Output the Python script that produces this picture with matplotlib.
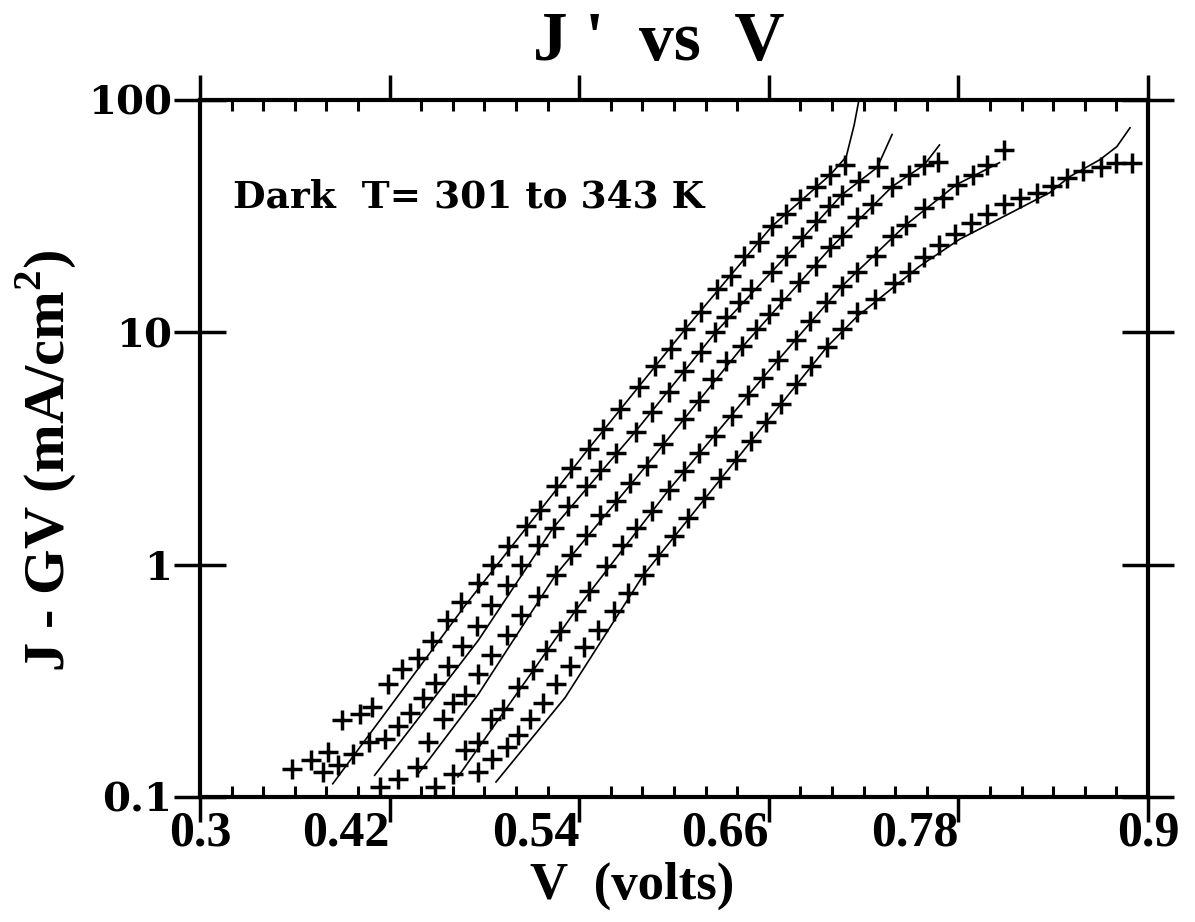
import matplotlib
matplotlib.use("Agg")
import matplotlib.pyplot as plt
from matplotlib.ticker import FixedLocator, MultipleLocator, NullLocator

plt.rcParams['font.family'] = ['Liberation Serif', 'DejaVu Serif']
plt.rcParams['mathtext.fontset'] = 'custom'
plt.rcParams['mathtext.rm'] = 'Liberation Serif:bold'
plt.rcParams['mathtext.bf'] = 'Liberation Serif:bold'

# measured points, J - GV (mA/cm^2) vs V (volts), five temperatures
s1_v = [0.358, 0.370, 0.381, 0.390, 0.401, 0.409, 0.419, 0.428, 0.438, 0.447, 0.456, 0.465,
        0.476, 0.485, 0.495, 0.506, 0.515, 0.525, 0.535, 0.546, 0.555, 0.566, 0.578, 0.588,
        0.598, 0.607, 0.617, 0.627, 0.636, 0.644, 0.654, 0.662, 0.671, 0.680, 0.690, 0.699, 0.708]
s1_j = [0.132, 0.144, 0.156, 0.214, 0.227, 0.243, 0.305, 0.354, 0.398, 0.471, 0.579, 0.692,
        0.834, 0.997, 1.20, 1.46, 1.71, 2.17, 2.60, 3.16, 3.85, 4.69, 5.83, 7.18,
        8.49, 10.3, 12.2, 15.3, 17.4, 21.2, 24.4, 28.6, 32.2, 37.3, 42.4, 47.7, 52.6]

s2_v = [0.378, 0.387, 0.397, 0.407, 0.417, 0.425, 0.433, 0.441, 0.449, 0.457, 0.466, 0.475,
        0.484, 0.494, 0.503, 0.514, 0.524, 0.533, 0.544, 0.553, 0.563, 0.576, 0.586, 0.597,
        0.606, 0.617, 0.626, 0.633, 0.641, 0.649, 0.662, 0.671, 0.681, 0.690, 0.698, 0.706,
        0.717, 0.729]
s2_j = [0.128, 0.137, 0.153, 0.172, 0.177, 0.203, 0.229, 0.268, 0.308, 0.368, 0.448, 0.546,
        0.672, 0.818, 0.996, 1.21, 1.44, 1.78, 2.17, 2.55, 3.01, 3.74, 4.55, 5.55,
        6.83, 8.24, 10.0, 11.6, 13.5, 15.3, 18.1, 21.2, 25.6, 30.0, 34.8, 39.1,
        44.6, 51.2]

s3_v = [0.414, 0.425, 0.437, 0.444, 0.454, 0.460, 0.468, 0.476, 0.484, 0.494, 0.503, 0.514,
        0.525, 0.535, 0.544, 0.553, 0.563, 0.572, 0.583, 0.593, 0.606, 0.616, 0.624, 0.633,
        0.643, 0.652, 0.660, 0.668, 0.679, 0.690, 0.699, 0.706, 0.716, 0.725, 0.738, 0.749,
        0.758, 0.767]
s3_j = [0.110, 0.119, 0.134, 0.172, 0.216, 0.255, 0.276, 0.337, 0.410, 0.499, 0.608, 0.733,
        0.902, 1.10, 1.34, 1.63, 1.87, 2.24, 2.67, 3.32, 4.25, 5.08, 6.31, 7.54,
        8.74, 10.3, 12.0, 13.9, 16.4, 19.2, 23.2, 25.9, 31.5, 35.5, 42.4, 47.7,
        52.6, 54.2]

s4_v = [0.449, 0.460, 0.468, 0.476, 0.484, 0.492, 0.501, 0.511, 0.519, 0.528, 0.538, 0.546,
        0.557, 0.567, 0.576, 0.586, 0.597, 0.606, 0.616, 0.626, 0.637, 0.647, 0.656, 0.666,
        0.677, 0.686, 0.696, 0.706, 0.716, 0.728, 0.738, 0.747, 0.758, 0.770, 0.779, 0.789,
        0.798, 0.809]
s4_j = [0.110, 0.125, 0.160, 0.172, 0.216, 0.238, 0.296, 0.353, 0.431, 0.519, 0.632, 0.771,
        0.986, 1.21, 1.44, 1.70, 2.09, 2.52, 3.01, 3.58, 4.38, 5.35, 6.37, 7.60,
        9.27, 11.2, 13.5, 15.8, 18.1, 21.2, 25.9, 29.1, 34.4, 38.0, 43.2, 47.7,
        52.6, 61.1]

s5_v = [0.476, 0.485, 0.494, 0.501, 0.509, 0.517, 0.525, 0.534, 0.543, 0.552, 0.562, 0.571,
        0.581, 0.590, 0.600, 0.609, 0.619, 0.629, 0.639, 0.649, 0.658, 0.668, 0.677, 0.687,
        0.697, 0.706, 0.716, 0.727, 0.739, 0.749, 0.758, 0.768, 0.778, 0.788, 0.798, 0.809,
        0.819, 0.830, 0.839, 0.849, 0.859, 0.870, 0.880, 0.890]
s5_j = [0.128, 0.146, 0.164, 0.184, 0.216, 0.255, 0.305, 0.367, 0.440, 0.525, 0.632, 0.755,
        0.902, 1.10, 1.33, 1.58, 1.93, 2.35, 2.81, 3.42, 4.13, 4.93, 6.00, 7.18,
        8.65, 10.3, 12.2, 13.9, 16.3, 18.1, 21.0, 23.7, 26.4, 29.4, 32.2, 35.5,
        38.0, 39.6, 42.8, 46.3, 49.6, 51.6, 53.7, 53.7]

# fitted curves
f1_v = [0.384, 0.468, 0.546, 0.607, 0.662, 0.699, 0.709, 0.714, 0.7175]
f1_j = [0.114, 0.67, 3.16, 10.3, 28.6, 47.7, 57.0, 78.0, 104.0]
f2_v = [0.4105, 0.476, 0.5235, 0.5756, 0.6263, 0.6708, 0.7063, 0.7286, 0.738]
f2_j = [0.124, 0.471, 1.44, 3.74, 10.0, 21.2, 39.1, 51.2, 71.0]
f3_v = [0.4378, 0.476, 0.525, 0.5825, 0.6438, 0.6994, 0.7381, 0.7584, 0.768]
f3_j = [0.125, 0.276, 0.902, 2.67, 8.74, 23.2, 42.4, 52.6, 64.0]
f4_v = [0.4632, 0.5375, 0.5965, 0.6562, 0.7063, 0.747, 0.7787, 0.806]
f4_j = [0.122, 0.632, 2.09, 6.37, 15.8, 29.1, 43.2, 53.7]
f5_v = [0.4873, 0.5311, 0.5806, 0.639, 0.6968, 0.7159, 0.7552, 0.7806, 0.8378, 0.8505,
        0.8695, 0.8803, 0.8886]
f5_j = [0.116, 0.268, 0.902, 2.81, 8.65, 11.7, 19.2, 25.1, 39.9, 46.8, 55.3, 63.0, 75.9]

xticks = [0.3, 0.42, 0.54, 0.66, 0.78, 0.9]
xlabels = ['0.3', '0.42', '0.54', '0.66', '0.78', '0.9']
yticks = [0.1, 1, 10, 100]
ylabels = ['0.1', '1', '10', '100']

series = [(s1_v, s1_j), (s2_v, s2_j), (s3_v, s3_j), (s4_v, s4_j), (s5_v, s5_j)]
fits = [(f1_v, f1_j), (f2_v, f2_j), (f3_v, f3_j), (f4_v, f4_j), (f5_v, f5_j)]

fig = plt.figure(figsize=(11.95, 9.22), dpi=100)
ax = fig.add_axes([0.1674, 0.1356, 0.7933, 0.7560])

for v, j in fits:
    ax.plot(v, j, color='k', lw=1.2, zorder=2)
for v, j in series:
    ax.plot(v, j, ls='none', marker='+', ms=14, mew=2.5, color='k', zorder=3)

ax.set_yscale('log')
ax.set_xlim(0.3, 0.9)
ax.set_ylim(0.1, 100)

ax.xaxis.set_major_locator(FixedLocator(xticks))
ax.xaxis.set_minor_locator(MultipleLocator(0.02))
ax.yaxis.set_major_locator(FixedLocator(yticks))
ax.yaxis.set_minor_locator(NullLocator())
ax.set_xticklabels(xlabels, fontsize=36, fontweight='bold')
ax.set_yticklabels(ylabels, fontsize=29, fontweight='bold', family='DejaVu Serif')
for i, lab in enumerate(ax.get_xticklabels()):
    if 0 < i < len(xlabels) - 1:
        lab.set_horizontalalignment('right')

ax.tick_params(axis='x', which='major', direction='out', length=18, width=2.5,
               top=True, bottom=True, pad=-8)
ax.tick_params(axis='x', which='minor', direction='in', length=8, width=2.2,
               top=True, bottom=True)
ax.tick_params(axis='y', which='major', direction='inout', length=38, width=2.5,
               left=True, right=True, pad=1)
for sp in ax.spines.values():
    sp.set_linewidth(3)

ax.text(0.035, 0.845, 'Dark  T= 301 to 343 K', transform=ax.transAxes,
        fontsize=27, fontweight='bold', family='DejaVu Serif')

fig.text(0.551, 0.935, "J '  vs  V", ha='center', va='baseline',
         fontsize=50, fontweight='bold')
fig.text(0.529, 0.025, 'V  (volts)', ha='center', va='baseline',
         fontsize=38, fontweight='bold')
fig.text(0.038, 0.5, r'J - GV (mA/cm$^{\mathbf{2}}$)', rotation=90, ha='center', va='center',
         fontsize=42, fontweight='bold')

fig.savefig('out.png', dpi=100)
